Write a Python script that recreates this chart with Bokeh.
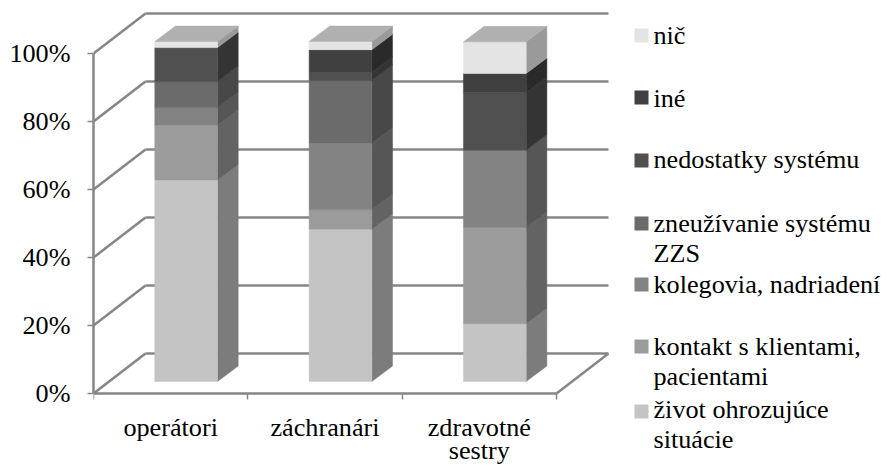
from bokeh.core.properties import value
from bokeh.embed import file_html
from bokeh.models import FixedTicker
from bokeh.plotting import figure
from bokeh.resources import INLINE

# Stress sources by occupation, share of answers in percent
categories = ["operátori", "záchranári", "zdravotné\nsestry"]
series_names = [
    "život ohrozujúce\nsituácie",
    "kontakt s klientami,\npacientami",
    "kolegovia, nadriadení",
    "zneužívanie systému\nZZS",
    "nedostatky systému",
    "iné",
    "nič",
]
zivot = [59.3, 44.8, 17.0]
kontakt = [16.1, 5.7, 28.3]
kolegovia = [5.1, 19.6, 22.7]
zneuzivanie = [7.7, 18.4, 0.0]
nedostatky = [10.0, 2.4, 16.9]
ine = [0.0, 6.7, 5.7]
nic = [1.8, 2.4, 9.3]
series_values = [zivot, kontakt, kolegovia, zneuzivanie, nedostatky, ine, nic]
y_ticks = [0, 20, 40, 60, 80, 100]

front_colors = ["#c4c4c4", "#9b9b9b", "#838383", "#6b6b6b", "#505050", "#404040", "#e4e4e4"]
side_colors = ["#7c7c7c", "#636363", "#565656", "#484848", "#343434", "#2a2a2a", "#9a9a9a"]
top_color = "#b0b0b0"
line_color = "#868686"
text_color = "#000000"
FONT = "Liberation Serif"
FONT_SIZE = "26.2px"
# Distance between the anchor the text glyph reports and the drawn baseline
BASELINE_SHIFT = 9

# Plot geometry in screen pixels
W, H = 887, 466
LEFT, BASE = 93, 393
CAT_PX, PCT_PX = 154.33, 3.4


def dx(px):
    return px / CAT_PX


def dy(px):
    return px / PCT_PX


def sx(px):
    return (px - LEFT) / CAT_PX


def sy(py):
    return (BASE - py) / PCT_PX


# Oblique offset of the back wall relative to the front plane
WALL_X, WALL_Y = dx(52), dy(40)
# Bars start part-way into the floor and have a fixed depth
BAR_X, BAR_Y = dx(15.6), dy(12)
DEPTH_X, DEPTH_Y = dx(20.7), dy(15.5)
GAP, BAR_W = dx(45.7), dx(62.7)

p = figure(
    width=W, height=H, output_backend="svg", toolbar_location=None,
    x_range=(0, (W - LEFT) / CAT_PX), y_range=(sy(H), BASE / PCT_PX),
    min_border_left=LEFT, min_border_bottom=0, min_border_top=0, min_border_right=0,
    frame_width=W - LEFT, frame_height=H,
    outline_line_color=None,
)
p.grid.visible = False
p.background_fill_color = "white"

# Value axis
ya = p.yaxis[0]
ya.ticker = FixedTicker(ticks=y_ticks)
ya.bounds = (0, 100)
ya.major_label_overrides = {t: f"{t}%" for t in y_ticks}
ya.major_label_text_font = FONT
ya.major_label_text_font_size = FONT_SIZE
ya.major_label_text_color = text_color
ya.major_label_standoff = 17
ya.axis_line_color = line_color
ya.axis_line_width = 2.5
ya.major_tick_line_color = line_color
ya.major_tick_line_width = 1.5
ya.major_tick_in = 0
ya.major_tick_out = 6
ya.minor_tick_line_color = None

# Category axis on the zero line: labels in the middle of each slot, ticks on the slot edges
centers = [i + 0.5 for i in range(len(categories))]
xa = p.xaxis[0]
xa.fixed_location = 0
xa.ticker = FixedTicker(ticks=centers, minor_ticks=list(range(len(categories) + 1)))
xa.bounds = (0, len(categories))
xa.major_label_overrides = {c: name.split("\n")[0] for c, name in zip(centers, categories)}
xa.major_label_text_font = FONT
xa.major_label_text_font_size = FONT_SIZE
xa.major_label_text_color = text_color
xa.major_label_standoff = 13
xa.axis_line_color = line_color
xa.axis_line_width = 2.5
xa.major_tick_line_color = None
xa.minor_tick_line_color = line_color
xa.minor_tick_line_width = 1.5
xa.minor_tick_in = 0
xa.minor_tick_out = 6

# Second lines of wrapped category labels
for c, name in zip(centers, categories):
    for extra in name.split("\n")[1:]:
        p.text([c], [sy(459 - BASELINE_SHIFT)], text=[extra], text_font=value(FONT),
               text_font_size=FONT_SIZE, text_color=text_color, text_align="center",
               text_baseline="alphabetic")

# Back wall lines and their diagonals on the side wall
n = len(categories)
for t in y_ticks:
    p.line([0, WALL_X], [t, t + WALL_Y], line_color=line_color, line_width=2.5)
    p.line([WALL_X, n + WALL_X], [t + WALL_Y, t + WALL_Y], line_color=line_color, line_width=2.5)
p.line([n, n + WALL_X], [0, WALL_Y], line_color=line_color, line_width=2.5)

# Stacked 3D columns
for i in range(n):
    x0 = i + GAP + BAR_X
    x1 = x0 + BAR_W
    base = 0.0
    for s, values in enumerate(series_values):
        v = values[i]
        if v <= 0:
            continue
        y0 = base + BAR_Y
        y1 = y0 + v
        p.patch([x1, x1 + DEPTH_X, x1 + DEPTH_X, x1],
                [y0, y0 + DEPTH_Y, y1 + DEPTH_Y, y1],
                fill_color=side_colors[s], line_color=side_colors[s], line_width=0.5)
        p.patch([x0, x1, x1, x0], [y0, y0, y1, y1],
                fill_color=front_colors[s], line_color=front_colors[s], line_width=0.5)
        base += v
    top = base + BAR_Y
    p.patch([x0, x1, x1 + DEPTH_X, x0 + DEPTH_X],
            [top, top, top + DEPTH_Y, top + DEPTH_Y],
            fill_color=top_color, line_color=top_color, line_width=0.5)

# Legend, top entry first
legend_rows = [
    (6, 42, [44]),
    (5, 104, [107]),
    (4, 167, [168]),
    (3, 230, [232, 262]),
    (2, 291, [293]),
    (1, 353, [355, 385]),
    (0, 418, [418, 448]),
]
for s, swatch_bottom, baselines in legend_rows:
    p.quad(left=sx(634), right=sx(648), bottom=sy(swatch_bottom), top=sy(swatch_bottom - 14),
           fill_color=front_colors[s], line_color=None)
    for text, baseline in zip(series_names[s].split("\n"), baselines):
        p.text([sx(653)], [sy(baseline - BASELINE_SHIFT)], text=[text], text_font=value(FONT),
               text_font_size=FONT_SIZE, text_color=text_color, text_baseline="alphabetic")

open("out.html", "w").write(file_html(p, INLINE))
